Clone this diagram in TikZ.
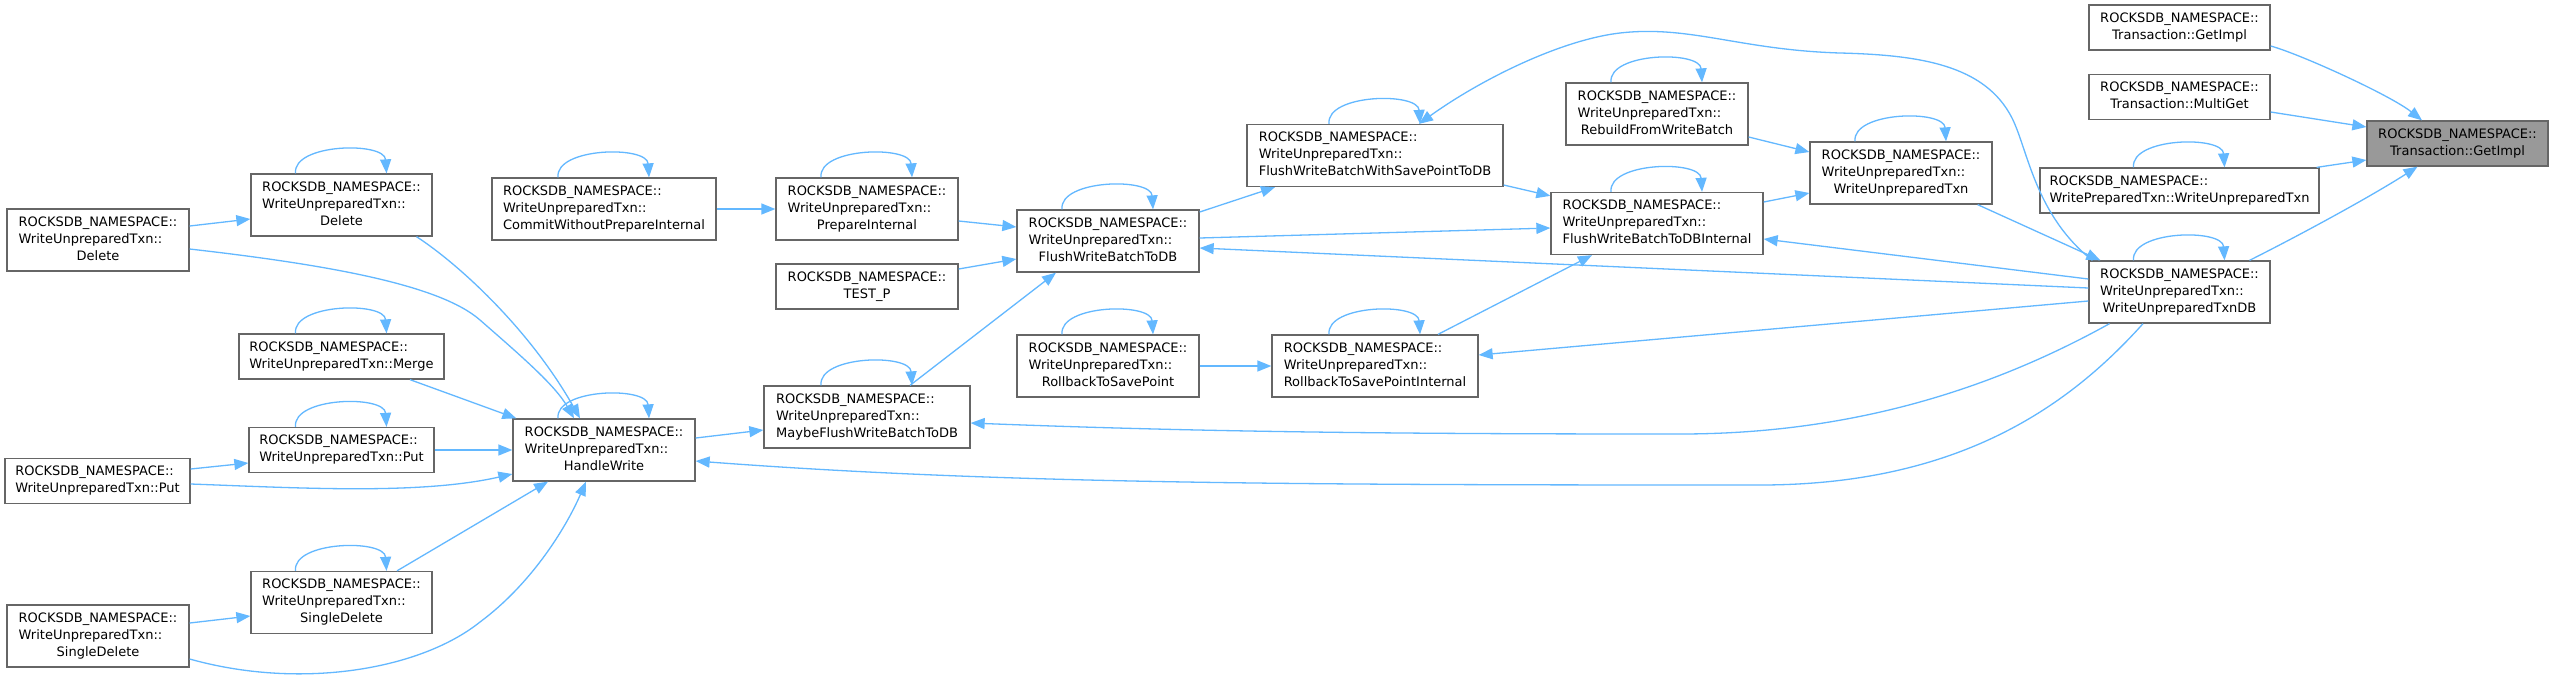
\documentclass[tikz,border=0pt]{standalone}
\usepackage{fontspec}
\setmainfont{DejaVu Sans}
\usetikzlibrary{arrows.meta}
\definecolor{edgeblue}{HTML}{63B8FF}
\definecolor{boxgray}{HTML}{666666}
\definecolor{targetfill}{HTML}{999999}
\newcommand\dxl[1]{\multicolumn{1}{@{}l@{}}{#1}}
\newcommand\dxtwo[2]{\begin{tabular}{@{}c@{}}\dxl{#1}\\#2\end{tabular}}
\newcommand\dxthree[3]{\begin{tabular}{@{}c@{}}\dxl{#1}\\\dxl{#2}\\#3\end{tabular}}
\newcommand\dxloop[1]{\draw[dxedge] ([shift={(-46,0)}]#1.north) .. controls +(-3,-30) and +(-2,-32) .. ([shift={(45,0)}]#1.north);}
\tikzset{
  dxbox/.style={draw=boxgray, fill=white, line width=1.3pt, inner sep=0pt, font=\fontsize{13}{17}\selectfont, text=black},
  dxtarget/.style={dxbox, fill=targetfill},
  dxedge/.style={draw=edgeblue, line width=1.3pt, -{Triangle[length=14pt,width=11pt]}},
}
\begin{document}
\begin{tikzpicture}[x=1pt,y=-1pt]
\fill[white] (0,0) rectangle (2556,678);
\useasboundingbox (0,0) rectangle (2556,678);
\def\NS{ROCKSDB\_NAMESPACE::}
\def\WU{WriteUnpreparedTxn::}
% nodes
\node[dxtarget, minimum width=181pt, minimum height=45pt] (T) at (2457.5,143.5) {\dxtwo{\NS}{Transaction::GetImpl}};
\node[dxbox, minimum width=181pt, minimum height=45pt] (CGet) at (2179.5,27.5) {\dxtwo{\NS}{Transaction::GetImpl}};
\node[dxbox, minimum width=181pt, minimum height=45pt] (CMulti) at (2179.5,97) {\dxtwo{\NS}{Transaction::MultiGet}};
\node[dxbox, minimum width=279pt, minimum height=45pt] (WPT) at (2179.5,190.5) {\dxtwo{\NS}{WritePreparedTxn::WriteUnpreparedTxn}};
\node[dxbox, minimum width=181pt, minimum height=62pt] (WUTDB) at (2179.5,292) {\dxthree{\NS}{\WU}{WriteUnpreparedTxnDB}};
\node[dxbox, minimum width=182pt, minimum height=62pt] (Rebuild) at (1657,114) {\dxthree{\NS}{\WU}{RebuildFromWriteBatch}};
\node[dxbox, minimum width=182pt, minimum height=62pt] (WUT) at (1901,173) {\dxthree{\NS}{\WU}{WriteUnpreparedTxn}};
\node[dxbox, minimum width=212pt, minimum height=62pt] (FWBI) at (1657,223.5) {\dxthree{\NS}{\WU}{FlushWriteBatchToDBInternal}};
\node[dxbox, minimum width=256pt, minimum height=62pt] (FWBSP) at (1375,155.5) {\dxthree{\NS}{\WU}{FlushWriteBatchWithSavePointToDB}};
\node[dxbox, minimum width=182pt, minimum height=62pt] (FWB) at (1108,241) {\dxthree{\NS}{\WU}{FlushWriteBatchToDB}};
\node[dxbox, minimum width=182pt, minimum height=62pt] (RSP) at (1108,366) {\dxthree{\NS}{\WU}{RollbackToSavePoint}};
\node[dxbox, minimum width=206pt, minimum height=62pt] (RSPI) at (1375,366) {\dxthree{\NS}{\WU}{RollbackToSavePointInternal}};
\node[dxbox, minimum width=182pt, minimum height=62pt] (Prep) at (867,209) {\dxthree{\NS}{\WU}{PrepareInternal}};
\node[dxbox, minimum width=182pt, minimum height=45pt] (TESTP) at (867,286.5) {\dxtwo{\NS}{TEST\_P}};
\node[dxbox, minimum width=206pt, minimum height=62pt] (Maybe) at (867,417) {\dxthree{\NS}{\WU}{MaybeFlushWriteBatchToDB}};
\node[dxbox, minimum width=224pt, minimum height=62pt] (Commit) at (604,209) {\dxthree{\NS}{\WU}{CommitWithoutPrepareInternal}};
\node[dxbox, minimum width=182pt, minimum height=62pt] (HW) at (604,450) {\dxthree{\NS}{\WU}{HandleWrite}};
\node[dxbox, minimum width=181pt, minimum height=62pt] (C2Del) at (341.5,205) {\dxthree{\NS}{\WU}{Delete}};
\node[dxbox, minimum width=205pt, minimum height=45pt] (Merge) at (341.5,356.5) {\dxtwo{\NS}{WriteUnpreparedTxn::Merge}};
\node[dxbox, minimum width=185pt, minimum height=45pt] (C2Put) at (341.5,450) {\dxtwo{\NS}{WriteUnpreparedTxn::Put}};
\node[dxbox, minimum width=181pt, minimum height=62pt] (C2SD) at (341.5,602.5) {\dxthree{\NS}{\WU}{SingleDelete}};
\node[dxbox, minimum width=182pt, minimum height=62pt] (LDel) at (98,240) {\dxthree{\NS}{\WU}{Delete}};
\node[dxbox, minimum width=185pt, minimum height=45pt] (LPut) at (97.5,481) {\dxtwo{\NS}{WriteUnpreparedTxn::Put}};
\node[dxbox, minimum width=182pt, minimum height=62pt] (LSD) at (98,636) {\dxthree{\NS}{\WU}{SingleDelete}};
% self loops
\foreach \n in {C2Del,Merge,C2Put,C2SD,HW,Commit,Prep,Maybe,FWB,RSP,FWBSP,RSPI,Rebuild,FWBI,WUT,WPT,WUTDB} {\dxloop{\n}}
% edges
\draw[dxedge] ([shift={(0,18.5)}]CGet.east) .. controls (2300,54) and (2390,95) .. ([shift={(-35.5,0)}]T.north);
\draw[dxedge] ([shift={(0,15)}]CMulti.east) -- ([shift={(0,-16.5)}]T.west);
\draw[dxedge] ([shift={(-3,0)}]WPT.north east) -- ([shift={(0,16.5)}]T.west);
\draw[dxedge] ([shift={(70,0)}]WUTDB.north) .. controls (2300,235) and (2370,197) .. ([shift={(-40,0)}]T.south);
\draw[dxedge] ([shift={(-15,0)}]WUT.south east) -- ([shift={(12,0)}]WUTDB.north west);
\draw[dxedge] ([shift={(4,0)}]WUTDB.north west) .. controls (2035,215) and (2028,150) .. (2012,118) .. controls (1985,65) and (1920,55) .. (1840,53) .. controls (1740,50) and (1690,25) .. (1620,33) .. controls (1560,40) and (1480,80) .. ([shift={(44,0)}]FWBSP.north);
\draw[dxedge] ([shift={(0,29.5)}]FWBSP.east) -- ([shift={(0,4)}]FWBI.north west);
\draw[dxedge] ([shift={(0,-3)}]FWB.east) -- ([shift={(0,4.5)}]FWBI.west);
\draw[dxedge] ([shift={(0,-4)}]WUTDB.west) -- ([shift={(0,7)}]FWB.east);
\draw[dxedge] ([shift={(0,-13)}]WUTDB.west) -- ([shift={(0,15.5)}]FWBI.east);
\draw[dxedge] ([shift={(0,9)}]WUTDB.west) -- ([shift={(0,-11)}]RSPI.east);
\draw[dxedge] ([shift={(63,0)}]RSPI.north) -- ([shift={(-65,0)}]FWBI.south);
\draw[dxedge] ([shift={(0,23)}]Rebuild.east) -- ([shift={(0,-21)}]WUT.west);
\draw[dxedge] ([shift={(0,-21.5)}]FWBI.east) -- ([shift={(0,20)}]WUT.west);
\draw[dxedge] ([shift={(0,-29)}]FWB.east) -- ([shift={(-100,0)}]FWBSP.south);
\draw[dxedge] ([shift={(0,12)}]Prep.east) -- ([shift={(0,-14)}]FWB.west);
\draw[dxedge] ([shift={(0,-17.5)}]TESTP.east) -- ([shift={(0,18)}]FWB.west);
\draw[dxedge] ([shift={(43,0)}]Maybe.north) -- ([shift={(-52,0)}]FWB.south);
\draw[dxedge] (Commit.east) -- (Prep.west);
\draw[dxedge] ([shift={(0,-12)}]HW.east) -- ([shift={(0,13)}]Maybe.west);
\draw[dxedge] ([shift={(-70,0)}]WUTDB.south) .. controls (1990,390) and (1850,434) .. (1680,434) .. controls (1400,434) and (1200,432) .. ([shift={(0,6)}]Maybe.east);
\draw[dxedge] ([shift={(-36.5,0)}]WUTDB.south) .. controls (2070,405) and (1960,485) .. (1760,485) .. controls (1300,485) and (1000,484) .. ([shift={(0,11)}]HW.east);
\draw[dxedge] (RSP.east) -- (RSPI.west);
\draw[dxedge] ([shift={(0,-14)}]LDel.east) -- ([shift={(0,14)}]C2Del.west);
\draw[dxedge] ([shift={(0,9)}]LDel.east) .. controls (330,265) and (440,285) .. (480,320) .. controls (520,355) and (555,385) .. ([shift={(-30,0)}]HW.north);
\draw[dxedge] ([shift={(75,0)}]C2Del.south) .. controls (460,265) and (530,330) .. ([shift={(-24,0)}]HW.north);
\draw[dxedge] ([shift={(68.5,0)}]Merge.south) -- ([shift={(4,0)}]HW.north west);
\draw[dxedge] (C2Put.east) -- (HW.west);
\draw[dxedge] ([shift={(0,-12)}]LPut.east) -- ([shift={(0,13)}]C2Put.west);
\draw[dxedge] ([shift={(0,3)}]LPut.east) .. controls (300,488) and (420,495) .. ([shift={(0,24)}]HW.west);
\draw[dxedge] ([shift={(55.5,0)}]C2SD.north) -- ([shift={(-56,0)}]HW.south);
\draw[dxedge] ([shift={(0,-13)}]LSD.east) -- ([shift={(0,13.5)}]C2SD.west);
\draw[dxedge] ([shift={(0,23)}]LSD.east) .. controls (300,690) and (420,670) .. (480,622) .. controls (530,585) and (565,530) .. ([shift={(-18,0)}]HW.south);
\end{tikzpicture}
\end{document}
